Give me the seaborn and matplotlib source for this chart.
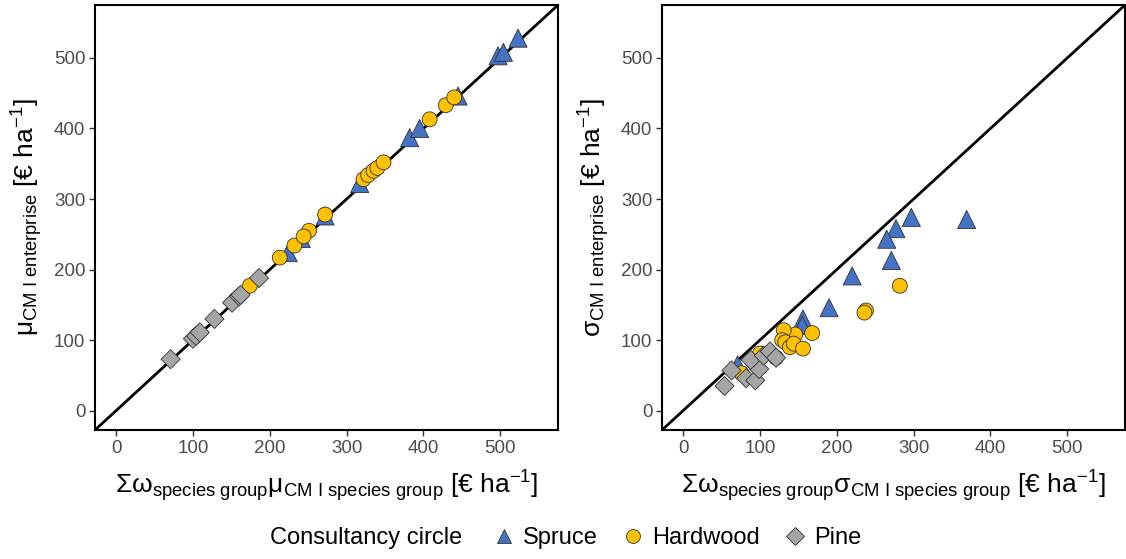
import numpy as np
import pandas as pd
import matplotlib
matplotlib.use("Agg")
import matplotlib.pyplot as plt
import seaborn as sns
from matplotlib.lines import Line2D

# ---------------- data ----------------
groups = ["Spruce", "Hardwood", "Pine"]

# left panel: mean
mu_spruce_x = [224, 241, 272, 317, 382, 395, 445, 497, 504, 523]
mu_spruce_y = [224, 244, 276, 322, 387, 400, 446, 503, 508, 528]
mu_hard_x = [174, 213, 232, 251, 244, 272, 322, 328, 335, 340, 348, 408, 429, 440]
mu_hard_y = [177, 217, 234, 255, 247, 278, 328, 334, 340, 344, 352, 413, 433, 444]
mu_pine_x = [71, 100, 104, 109, 128, 151, 160, 162, 186]
mu_pine_y = [73, 102, 106, 111, 130, 153, 162, 164, 188]

# right panel: standard deviation
sd_spruce_x = [369, 297, 277, 265, 271, 220, 190, 156, 155, 71]
sd_spruce_y = [271, 274, 258, 243, 213, 191, 146, 130, 121, 65]
sd_hard_x = [282, 238, 236, 168, 146, 131, 129, 133, 139, 144, 156, 76, 100, 121]
sd_hard_y = [177, 142, 139, 110, 108, 114, 100, 97, 90, 95, 88, 53, 81, 75]
sd_pine_x = [54, 63, 82, 94, 99, 88, 105, 113, 121]
sd_pine_y = [35, 57, 46, 43, 59, 72, 78, 84, 75]

ticks = [0, 100, 200, 300, 400, 500]
legend_title = "Consultancy circle"

palette = {"Spruce": "#4472C4", "Hardwood": "#FFC000", "Pine": "#A5A5A5"}
markers = {"Spruce": "^", "Hardwood": "o", "Pine": "D"}
msizes = {"Spruce": 170, "Hardwood": 115, "Pine": 95}


def make_df(sx, sy, hx, hy, px, py):
    return pd.DataFrame({
        "x": list(sx) + list(hx) + list(px),
        "y": list(sy) + list(hy) + list(py),
        "group": ["Spruce"] * len(sx) + ["Hardwood"] * len(hx) + ["Pine"] * len(px),
    })


df_mu = make_df(mu_spruce_x, mu_spruce_y, mu_hard_x, mu_hard_y, mu_pine_x, mu_pine_y)
df_sd = make_df(sd_spruce_x, sd_spruce_y, sd_hard_x, sd_hard_y, sd_pine_x, sd_pine_y)

# ---------------- style ----------------
sns.set_theme(style="white")
plt.rcParams["font.family"] = ["Liberation Sans", "DejaVu Sans"]
plt.rcParams["mathtext.fontset"] = "custom"
plt.rcParams["mathtext.rm"] = "Liberation Sans"
plt.rcParams["mathtext.it"] = "Liberation Sans:italic"
plt.rcParams["mathtext.bf"] = "Liberation Sans:bold"
plt.rcParams["text.color"] = "black"
plt.rcParams["axes.labelcolor"] = "black"

fig = plt.figure(figsize=(11.26, 5.59), dpi=100)
ax1 = fig.add_axes([95 / 1126, 129 / 559, 463 / 1126, 425 / 559])
ax2 = fig.add_axes([662 / 1126, 129 / 559, 463 / 1126, 425 / 559])

xlabels = [
    r"$\mathrm{\Sigma\omega}_{\mathrm{species\ group}}\mathrm{\mu}_{\mathrm{CM\ I\ species\ group}}$ [€ ha$^{-1}$]",
    r"$\mathrm{\Sigma\omega}_{\mathrm{species\ group}}\mathrm{\sigma}_{\mathrm{CM\ I\ species\ group}}$ [€ ha$^{-1}$]",
]
ylabels = [
    r"$\mathrm{\mu}_{\mathrm{CM\ I\ enterprise}}$ [€ ha$^{-1}$]",
    r"$\mathrm{\sigma}_{\mathrm{CM\ I\ enterprise}}$ [€ ha$^{-1}$]",
]

for ax, df, xl, yl in zip([ax1, ax2], [df_mu, df_sd], xlabels, ylabels):
    ax.axline((0, 0), slope=1, color="black", lw=2, zorder=1)
    sns.scatterplot(data=df, x="x", y="y", hue="group", style="group",
                    size="group", sizes=msizes,
                    hue_order=groups, style_order=groups, size_order=groups,
                    palette=palette, markers=markers,
                    edgecolor="#333333", linewidth=0.6, ax=ax, legend=False,
                    zorder=3)
    ax.set_xlim(-27.4, 575)
    ax.set_ylim(-27.4, 575)
    ax.set_xticks(ticks)
    ax.set_yticks(ticks)
    ax.tick_params(axis="both", which="both", direction="out", length=4,
                   width=1, color="#333333", labelcolor="#4D4D4D",
                   labelsize=13.5, bottom=True, left=True, pad=3)
    for sp in ax.spines.values():
        sp.set_color("black")
        sp.set_linewidth(1.5)
    ax.set_xlabel(xl, fontsize=19, labelpad=8)
    ax.set_ylabel(yl, fontsize=19, labelpad=6)
    ax.grid(False)

handles = [Line2D([0], [0], marker=markers[g], linestyle="none",
                  markerfacecolor=palette[g], markeredgecolor="#333333",
                  markeredgewidth=0.6, markersize=10 if g != "Pine" else 9,
                  label=g) for g in groups]
fig.text(270 / 1126, 21 / 559, legend_title, fontsize=17, va="center", ha="left")
fig.legend(handles=handles, loc="center", bbox_to_anchor=(677 / 1126, 21 / 559),
           ncol=3, frameon=False, fontsize=17, handletextpad=0.3,
           columnspacing=1.0, handlelength=1.0)

fig.savefig("out.png", dpi=100)
